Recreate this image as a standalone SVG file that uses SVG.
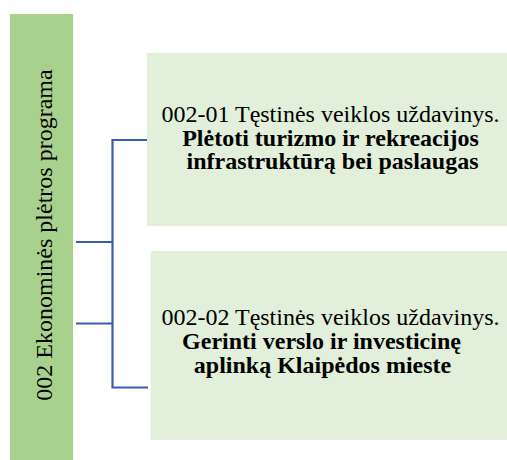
<svg xmlns="http://www.w3.org/2000/svg" width="507" height="460" viewBox="0 0 507 460">
<style>
.bg{fill:#ffffff}
.prog{fill:#a9d18e}
.task{fill:#e2efda}
.t{font-family:"Liberation Serif","Times New Roman",serif;font-size:24px;fill:#000000}
.b{font-weight:bold}
.conn{stroke:#3b5ca8;stroke-width:2.2;fill:none}
</style>
<rect class="bg" x="0" y="0" width="507" height="460"/>
<g id="program">
<rect class="prog" x="10" y="14" width="63" height="446"/>
<text class="t" transform="translate(52,235) rotate(-90)" text-anchor="middle">002 Ekonominės plėtros programa</text>
</g>
<g id="task1">
<rect class="task" x="147" y="53" width="360" height="173"/>
<text class="t" text-anchor="middle">
<tspan x="333.5" y="122">002-01 Tęstinės veiklos uždavinys.</tspan>
<tspan class="b" x="333.5" y="145.5">Plėtoti turizmo ir rekreacijos</tspan>
<tspan class="b" x="332.5" y="169">infrastruktūrą bei paslaugas</tspan>
</text>
</g>
<g id="task2">
<rect class="task" x="150.5" y="251" width="356.5" height="189"/>
<text class="t" text-anchor="middle">
<tspan x="333.5" y="325">002-02 Tęstinės veiklos uždavinys.</tspan>
<tspan class="b" x="324.5" y="349">Gerinti verslo ir investicinę</tspan>
<tspan class="b" x="322.5" y="373">aplinką Klaipėdos mieste</tspan>
</text>
</g>
<g id="connectors">
<path class="conn" d="M147,140 H112.5 V387.5 H148"/>
<path class="conn" d="M76,242 H112.5"/>
<path class="conn" d="M76,323.5 H112.5"/>
</g>
</svg>
